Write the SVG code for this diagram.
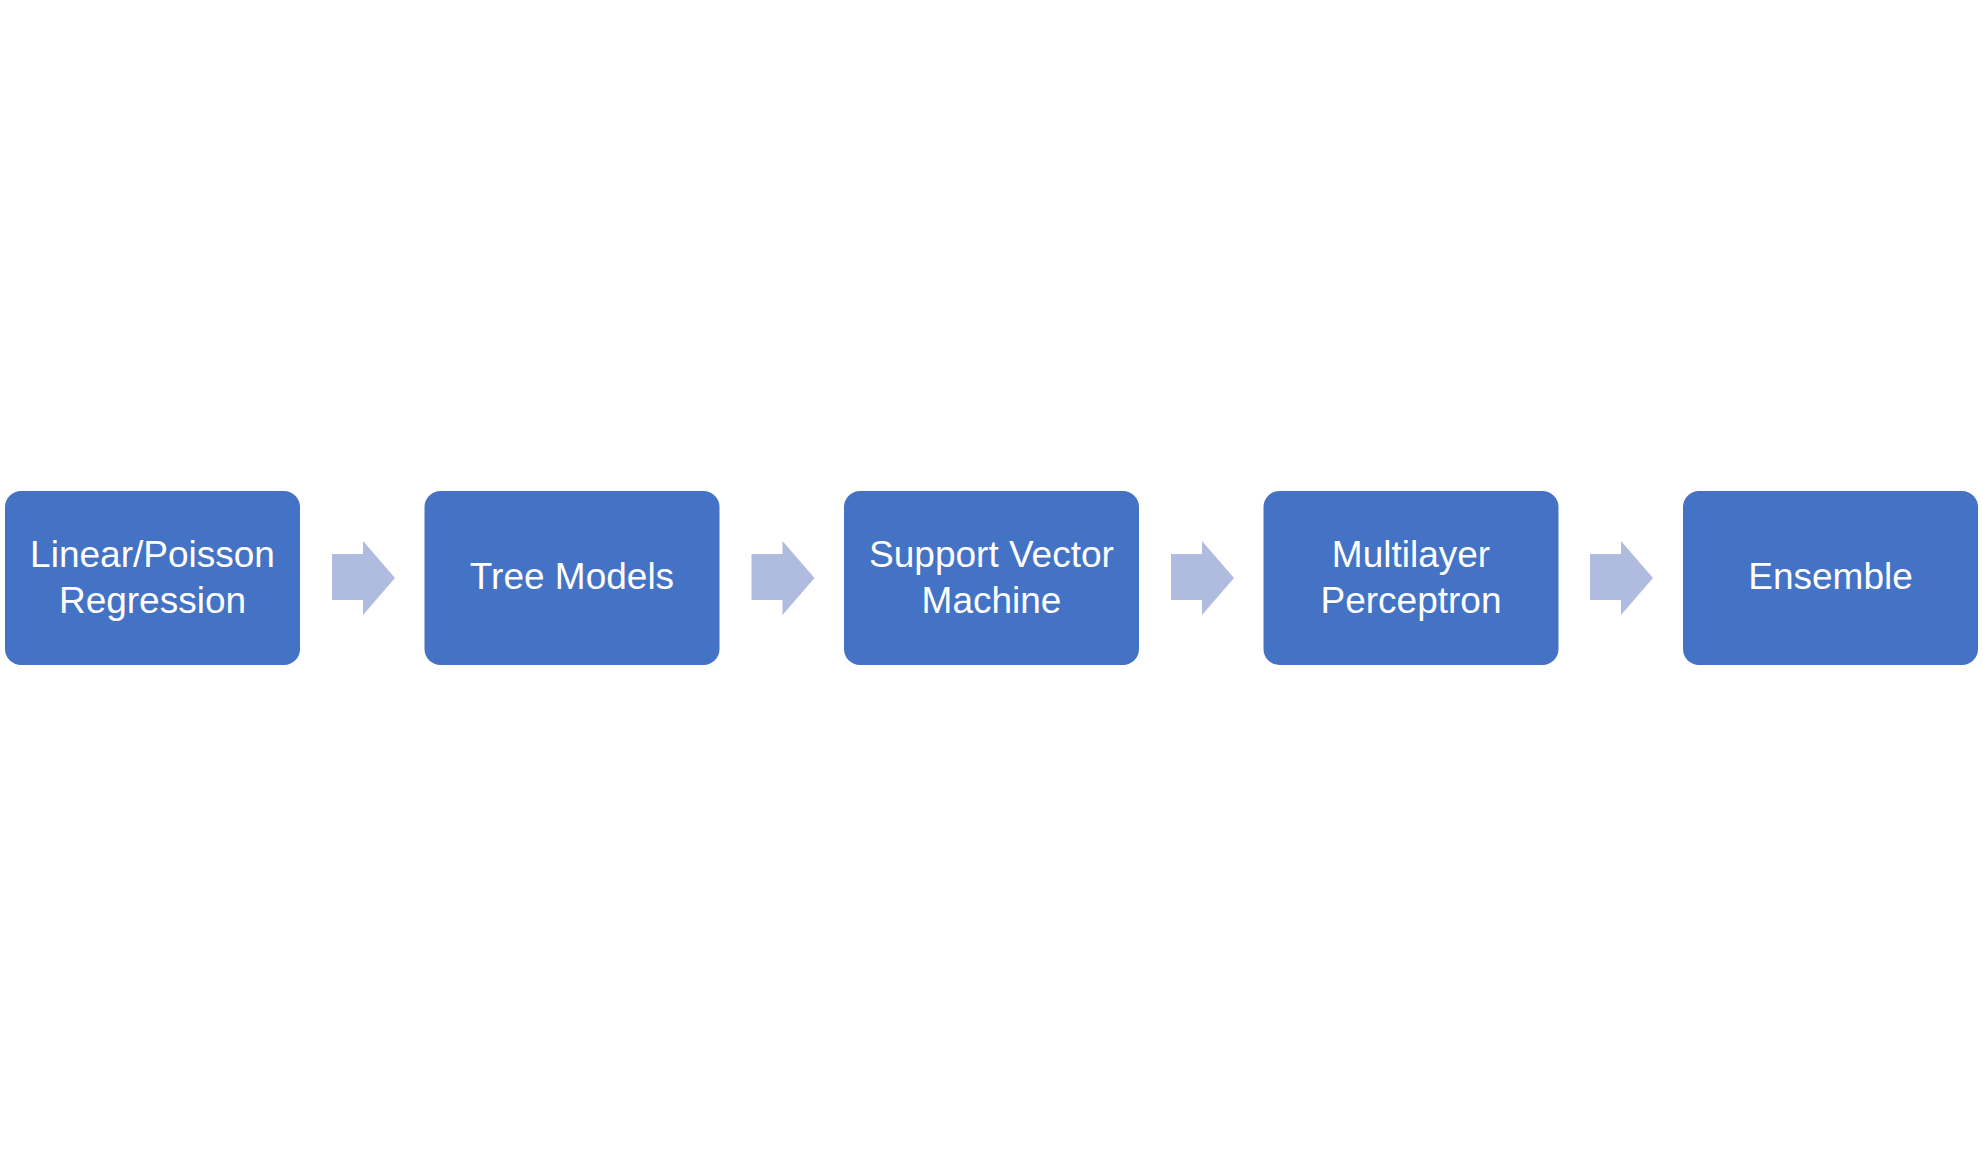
<svg xmlns="http://www.w3.org/2000/svg" width="1983" height="1155" viewBox="0 0 1983 1155">
<style>
.box{fill:#4472C4;}
.arr{fill:#AFBCE0;}
.t{font-family:"Liberation Sans",Arial,sans-serif;font-size:37px;fill:#FFFFFF;text-anchor:middle;}
</style>
<rect width="1983" height="1155" fill="#FFFFFF"/>
<g id="connectors">
<polygon class="arr" points="332,554 363,554 363,541 395,578 363,615 363,600 332,600"/>
<polygon class="arr" points="751.5,554 782.5,554 782.5,541 814.5,578 782.5,615 782.5,600 751.5,600"/>
<polygon class="arr" points="1171,554 1202,554 1202,541 1234,578 1202,615 1202,600 1171,600"/>
<polygon class="arr" points="1590,554 1621,554 1621,541 1653,578 1621,615 1621,600 1590,600"/>
</g>
<g id="node1">
<rect class="box" x="5" y="491" width="295" height="174" rx="16"/>
<text class="t" x="152.5" y="567">Linear/Poisson</text>
<text class="t" x="152.5" y="613">Regression</text>
</g>
<g id="node2">
<rect class="box" x="424.5" y="491" width="295" height="174" rx="16"/>
<text class="t" x="572" y="589">Tree Models</text>
</g>
<g id="node3">
<rect class="box" x="844" y="491" width="295" height="174" rx="16"/>
<text class="t" x="991.5" y="567">Support Vector</text>
<text class="t" x="991.5" y="613">Machine</text>
</g>
<g id="node4">
<rect class="box" x="1263.5" y="491" width="295" height="174" rx="16"/>
<text class="t" x="1411" y="567">Multilayer</text>
<text class="t" x="1411" y="613">Perceptron</text>
</g>
<g id="node5">
<rect class="box" x="1683" y="491" width="295" height="174" rx="16"/>
<text class="t" x="1830.5" y="589">Ensemble</text>
</g>
</svg>
